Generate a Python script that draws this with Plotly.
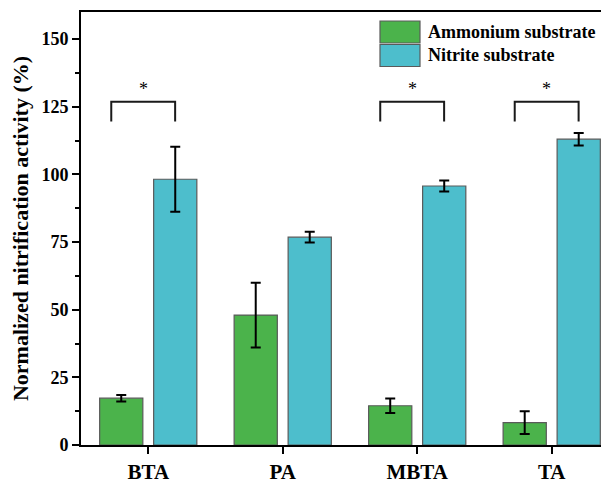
import plotly.graph_objects as go

categories = ["BTA", "PA", "MBTA", "TA"]
ammonium = [17.3, 48.0, 14.5, 8.3]
ammonium_err = [1.2, 12.0, 2.7, 4.2]
nitrite = [98.2, 76.8, 95.7, 113.0]
nitrite_err = [12.0, 2.0, 2.0, 2.3]
sig_categories = [0, 2, 3]
sig_low = [119.5, 119.5, 119.5]
sig_high = [126.8, 126.8, 126.8]
sig_label = "*"

FONT = "Times New Roman, Liberation Serif, serif"
GREEN = "#4BB34B"
CYAN = "#4DBECC"
EDGE = "#5a5a5a"

# page body has an 8px default margin; compensate so the plot sits where the reference has it
OFF = 8
ML, MT, MB = 81 - OFF, 12 - OFF, 40

x = list(range(len(categories)))

fig = go.Figure()
fig.add_trace(go.Bar(
    x=x, y=ammonium, name="Ammonium substrate",
    marker=dict(color=GREEN, line=dict(color=EDGE, width=1.2)),
    error_y=dict(type="data", array=ammonium_err, color="black", thickness=2, width=5),
    showlegend=False,
))
fig.add_trace(go.Bar(
    x=x, y=nitrite, name="Nitrite substrate",
    marker=dict(color=CYAN, line=dict(color=EDGE, width=1.2)),
    error_y=dict(type="data", array=nitrite_err, color="black", thickness=2, width=5),
    showlegend=False,
))

# significance brackets
left_off, right_off = -0.275, 0.2
for c, lo, hi in zip(sig_categories, sig_low, sig_high):
    fig.add_trace(go.Scatter(
        x=[c + left_off, c + left_off, c + right_off, c + right_off],
        y=[lo, hi, hi, lo], mode="lines",
        line=dict(color="#1a1a1a", width=2), showlegend=False, hoverinfo="skip",
    ))
    fig.add_annotation(x=c + (left_off + right_off) / 2, y=hi, text=sig_label,
                       showarrow=False, yanchor="bottom", yshift=1,
                       font=dict(family=FONT, size=18, color="black"))

# manual legend (positions in screen pixels of the reference)
legend_items = [("Ammonium substrate", GREEN), ("Nitrite substrate", CYAN)]
W, H = 528.0, 433.0
for i, (label, col) in enumerate(legend_items):
    top = 21 + i * 23.5
    bot = top + 22
    fig.add_shape(type="rect", xref="paper", yref="paper",
                  x0=(380 - 81) / W, x1=(420 - 81) / W,
                  y0=(445 - bot) / H, y1=(445 - top) / H,
                  fillcolor=col, line=dict(color=EDGE, width=1.2))
    fig.add_annotation(xref="paper", yref="paper", x=(426 - 81) / W,
                       y=(445 - (top + bot) / 2) / H, text=f"<b>{label}</b>", showarrow=False,
                       xanchor="left", yanchor="middle",
                       font=dict(family=FONT, size=18, color="black"))

fig.update_layout(
    width=609 - OFF, height=485 - OFF,
    margin=dict(l=ML, r=0, t=MT, b=MB, pad=0),
    paper_bgcolor="white", plot_bgcolor="white",
    barmode="group", bargap=0.197, bargroupgap=0.2,
    font=dict(family=FONT, color="black"),
)
fig.update_xaxes(
    range=[-0.5, 3.426], tickvals=x, ticktext=[f"<b>{c}</b>" for c in categories],
    tickfont=dict(family=FONT, size=21, color="black"),
    showline=True, linecolor="black", linewidth=2, mirror=True,
    ticks="outside", ticklen=7, tickwidth=2, tickcolor="black",
    showgrid=False, zeroline=False, automargin=False,
)
fig.update_yaxes(
    range=[0, 160], tickvals=[0, 25, 50, 75, 100, 125, 150],
    ticktext=[f"<b>{v}</b>" for v in [0, 25, 50, 75, 100, 125, 150]],
    tickfont=dict(family=FONT, size=18, color="black"),
    showline=True, linecolor="black", linewidth=2,
    ticks="outside", ticklen=7, tickwidth=2, tickcolor="black",
    minor=dict(ticks="outside", ticklen=4, tickwidth=1.5, tickcolor="black", dtick=12.5, tick0=0),
    showgrid=False, zeroline=False, automargin=False,
    title=dict(text="<b>Normalized nitrification activity (%)</b>",
               font=dict(family=FONT, size=22, color="black"), standoff=10),
)

fig.write_html("out.html")
